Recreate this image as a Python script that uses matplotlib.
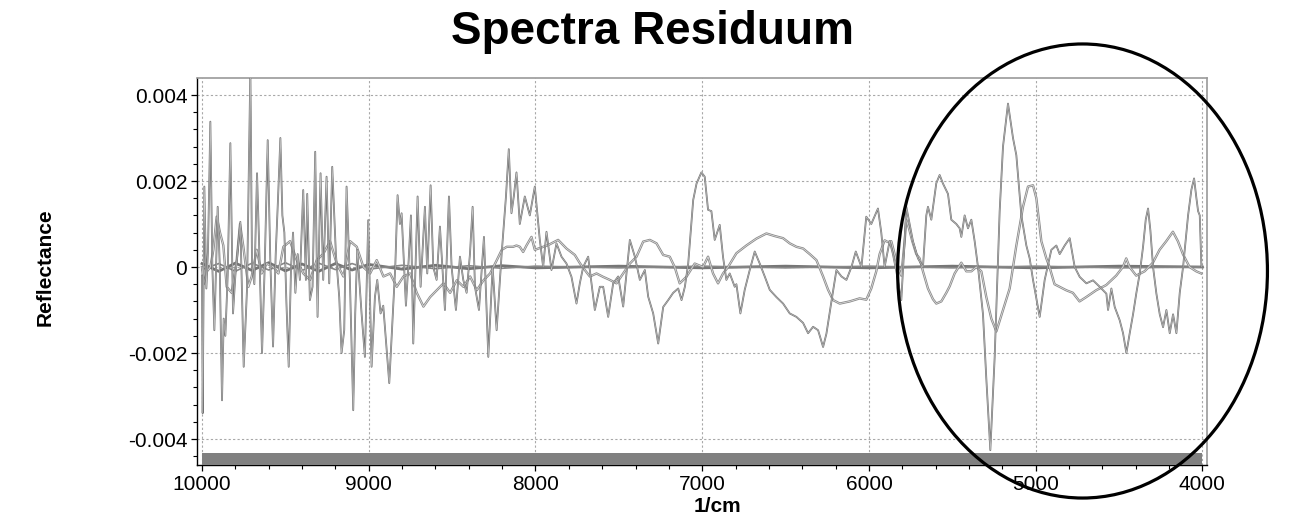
import matplotlib.pyplot as plt
from matplotlib.patches import Ellipse
from matplotlib.ticker import MultipleLocator, FixedLocator, FixedFormatter
import numpy as np

plt.rcParams['font.family'] = ['Liberation Sans', 'DejaVu Sans']
plt.rcParams['axes.unicode_minus'] = False

# residual with the large swings (wavenumber 1/cm, reflectance)
resid_a = [
    (10000, -0.0002), (9996, -0.0034), (9986, 0.00187), (9974, -0.0005), (9964, 0.0004),
    (9950, 0.00338), (9938, 0.0), (9926, -0.00147), (9906, 0.0014), (9894, 0.0001),
    (9880, -0.0031), (9870, -0.0012), (9860, -0.0016), (9846, -0.0002), (9830, 0.00288),
    (9814, -0.00108), (9800, -0.0002), (9790, 0.0002), (9770, 0.00105), (9750, -0.00232),
    (9730, -0.0005), (9710, 0.0046), (9700, 0.0), (9686, -0.0004), (9670, 0.00218),
    (9658, 0.0006), (9640, -0.002), (9624, 0.0), (9606, 0.00295), (9590, 0.0001),
    (9574, -0.00185), (9558, 0.0003), (9544, 0.0016), (9530, 0.003), (9518, 0.0012),
    (9506, 0.0008), (9494, -0.0008), (9480, -0.00232), (9466, 0.0), (9454, 0.0008),
    (9440, -0.0006), (9426, 0.0003), (9413, -0.0003), (9393, 0.00179), (9377, -0.0003),
    (9369, 0.0017), (9353, -0.00077), (9337, -0.00046), (9321, 0.00268), (9307, -0.00116),
    (9289, 0.00218), (9273, -0.0003), (9253, 0.0021), (9237, -0.00038), (9219, 0.00233),
    (9197, 0.0003), (9177, -0.0007), (9163, -0.002), (9147, -0.00147), (9133, 0.00187),
    (9113, -0.0003), (9093, -0.00333), (9081, -0.00108), (9069, 0.0004), (9043, -0.00108),
    (9023, -0.00209), (9003, 0.00109), (8983, -0.00232), (8963, -0.0007), (8949, -0.0003),
    (8929, -0.00108), (8913, -0.0009), (8897, -0.0017), (8877, -0.0027), (8857, -0.0012),
    (8841, 0.0), (8827, 0.00167), (8813, 0.001), (8803, 0.00125), (8777, -0.0009),
    (8760, 0.0002), (8747, 0.0012), (8733, -0.00178), (8707, 0.00164), (8689, -0.00046),
    (8663, 0.0014), (8649, -0.00015), (8629, 0.0019), (8613, 0.0), (8593, -0.0003),
    (8573, 0.00094), (8543, -0.001), (8519, 0.00164), (8503, 0.0), (8477, -0.001),
    (8453, 0.00024), (8433, -0.0003), (8413, -0.0006), (8393, 0.0003), (8377, 0.0014),
    (8363, -0.00046), (8339, -0.001), (8309, 0.0007), (8283, -0.00209), (8257, 0.0),
    (8233, -0.00147), (8203, 0.0003), (8177, 0.00164), (8160, 0.00274), (8144, 0.00125),
    (8130, 0.00164), (8114, 0.0022), (8094, 0.001), (8064, 0.00164), (8034, 0.0012),
    (8004, 0.00187), (7974, 0.00063), (7954, 0.0), (7934, 0.00082), (7904, -0.00007),
    (7874, 0.00055), (7844, 0.00024), (7814, 0.00008), (7784, -0.00023), (7754, -0.00085),
    (7734, -0.00038), (7714, 0.0), (7684, 0.00024), (7644, -0.001), (7614, -0.00046),
    (7594, -0.00046), (7564, -0.00116), (7534, -0.00038), (7504, -0.00022), (7474, -0.00092),
    (7434, 0.00063), (7404, 0.00024), (7374, -0.0003), (7344, -0.00007), (7324, -0.00069),
    (7294, -0.00108), (7264, -0.00178), (7234, -0.00093), (7204, -0.00077), (7174, -0.0006),
    (7144, -0.0005), (7124, -0.00077), (7104, -0.00046), (7084, 0.00008), (7054, 0.00156),
    (7034, 0.00194), (7005, 0.0022), (6985, 0.0021), (6965, 0.00133), (6945, 0.0013),
    (6925, 0.00063), (6895, 0.00098), (6875, 0.00023), (6855, -0.0003), (6835, -0.00015),
    (6805, -0.00046), (6795, -0.0004), (6771, -0.00108), (6745, -0.00053), (6715, -0.00007),
    (6685, 0.00036), (6655, 0.00008), (6625, -0.00022), (6595, -0.00053), (6555, -0.0007),
    (6515, -0.00085), (6475, -0.00108), (6435, -0.00116), (6395, -0.0013), (6365, -0.00154),
    (6335, -0.00139), (6305, -0.00147), (6275, -0.00186), (6255, -0.00155), (6225, -0.0008),
    (6195, -0.00007), (6165, -0.00022), (6135, -0.0003), (6105, 0.0), (6079, 0.00036),
    (6045, 0.0), (6025, 0.0008), (6016, 0.00117), (5986, 0.001), (5946, 0.00136),
    (5926, 0.0008), (5906, 0.0), (5876, 0.0006), (5856, 0.0003), (5836, -0.0001),
    (5806, -0.00077), (5786, 0.0006), (5776, 0.0014), (5756, 0.001), (5736, 0.0006),
    (5706, 0.0002), (5676, 0.0), (5656, 0.0012), (5646, 0.0014), (5626, 0.0011),
    (5596, 0.00195), (5576, 0.00214), (5556, 0.00194), (5526, 0.0017), (5506, 0.0011),
    (5476, 0.001), (5456, 0.0009), (5446, 0.0007), (5426, 0.0012), (5406, 0.0009),
    (5386, 0.0011), (5366, 0.0006), (5346, 0.0), (5316, -0.0011), (5296, -0.0026),
    (5272, -0.00426), (5246, -0.0021), (5216, 0.0013), (5196, 0.0028), (5166, 0.0038),
    (5136, 0.003), (5116, 0.0026), (5086, 0.0012), (5056, 0.0005), (5036, 0.0002),
    (5016, -0.0003), (4976, -0.00116), (4946, -0.0003), (4906, 0.0004), (4876, 0.0005),
    (4856, 0.0003), (4826, 0.0005), (4796, 0.00067), (4766, 0.0), (4736, -0.00023),
    (4696, -0.00038), (4656, -0.00031), (4616, -0.00046), (4576, -0.00062), (4566, -0.001),
    (4546, -0.0005), (4526, -0.00093), (4496, -0.00124), (4476, -0.00154), (4456, -0.002),
    (4436, -0.00154), (4416, -0.0011), (4396, -0.0006), (4376, -0.00015), (4356, 0.00047),
    (4340, 0.0011), (4326, 0.00136), (4312, 0.00085), (4296, 0.0), (4276, -0.00062),
    (4256, -0.0011), (4236, -0.0014), (4216, -0.001), (4196, -0.00154), (4176, -0.0011),
    (4156, -0.00154), (4136, -0.0006), (4116, 0.0), (4086, 0.0012), (4066, 0.0018),
    (4050, 0.00206), (4036, 0.0016), (4026, 0.0013), (4016, 0.0012), (4006, 0.0),
]

# smoother residual pair
resid_b = [
    (10000, 0.0), (9990, -0.0004), (9970, -0.0001), (9950, 0.0), (9932, 0.0004),
    (9912, 0.00117), (9892, 0.0008), (9872, 0.0005), (9852, -0.00046), (9822, -0.0006),
    (9792, 0.00016), (9772, 0.001), (9752, 0.00047), (9722, -0.00046), (9702, -0.00022),
    (9672, 0.0004), (9642, -0.00015), (9612, 0.00008), (9572, 0.0), (9542, -0.00015),
    (9512, 0.00047), (9472, 0.0006), (9432, 0.00016), (9392, -0.00015), (9352, -0.0003),
    (9312, 0.00016), (9272, 0.00031), (9232, 0.0006), (9192, 0.00008), (9152, -0.00022),
    (9112, 0.0006), (9072, 0.00047), (9032, 0.0), (8992, -0.00015), (8952, 0.00016),
    (8912, -0.00022), (8872, -0.00015), (8832, -0.00046), (8792, -0.00022), (8752, -0.00015),
    (8712, -0.0006), (8672, -0.00092), (8632, -0.0007), (8592, -0.00054), (8552, -0.00038),
    (8512, -0.0006), (8472, -0.00031), (8432, -0.00046), (8392, -0.00022), (8352, -0.00054),
    (8312, -0.00031), (8272, -0.00015), (8232, 0.00016), (8202, 0.0004), (8172, 0.00047),
    (8134, 0.00047), (8114, 0.0005), (8094, 0.00047), (8074, 0.00035), (8054, 0.0005),
    (8024, 0.0007), (8004, 0.0004), (7954, 0.00047), (7924, 0.00051), (7864, 0.00063),
    (7814, 0.00043), (7764, 0.00028), (7734, 0.00009), (7704, -0.00007), (7674, -0.00022),
    (7634, -0.00015), (7594, -0.00023), (7554, -0.0003), (7514, -0.00038), (7474, -0.00015),
    (7434, 0.00008), (7394, 0.00024), (7354, 0.00059), (7314, 0.00063), (7274, 0.00055),
    (7234, 0.00028), (7195, 0.00024), (7165, 0.0), (7135, -0.00038), (7095, -0.00023),
    (7045, 0.00008), (6995, 0.0), (6965, 0.00024), (6935, -0.00015), (6905, -0.00038),
    (6875, -0.00015), (6845, 0.0), (6795, 0.00032), (6735, 0.0005), (6675, 0.00066),
    (6615, 0.00078), (6565, 0.00072), (6515, 0.00067), (6475, 0.00055), (6435, 0.00047),
    (6395, 0.00043), (6355, 0.0003), (6315, 0.00016), (6275, -0.00022), (6245, -0.00053),
    (6215, -0.00077), (6175, -0.00085), (6115, -0.0008), (6056, -0.00073), (6016, -0.00076),
    (5986, -0.0005), (5956, -0.0001), (5936, 0.0003), (5906, 0.00062), (5886, 0.00058),
    (5866, 0.0006), (5846, 0.0003), (5826, 0.0), (5806, -0.0002), (5786, 0.0006),
    (5776, 0.0011), (5760, 0.0009), (5740, 0.0006), (5716, 0.0003), (5696, 0.0002),
    (5676, -0.0001), (5646, -0.0005), (5616, -0.00075), (5596, -0.00085), (5566, -0.0008),
    (5536, -0.0006), (5516, -0.00045), (5486, -0.00015), (5446, 0.0001), (5416, -0.0001),
    (5386, -0.0001), (5356, 0.0), (5326, -0.0001), (5296, -0.0007), (5266, -0.0012),
    (5236, -0.0015), (5196, -0.001), (5156, -0.0005), (5116, 0.0005), (5076, 0.0014),
    (5046, 0.00187), (5016, 0.0019), (4996, 0.0016), (4966, 0.0006), (4936, 0.0002),
    (4917, 0.0), (4887, -0.0004), (4857, -0.00046), (4817, -0.00054), (4777, -0.0006),
    (4737, -0.0008), (4697, -0.0007), (4637, -0.00054), (4577, -0.00042), (4517, -0.0002),
    (4477, 0.0), (4457, 0.0002), (4437, 0.0), (4397, -0.0002), (4347, -0.0001),
    (4297, 0.0001), (4257, 0.0004), (4217, 0.0006), (4177, 0.00082), (4147, 0.0006),
    (4117, 0.0003), (4077, 0.0), (4037, -0.0001), (4007, -0.00015),
]

# residuals that stay on the zero line
zero_wn = [10000, 9900, 9800, 9700, 9600, 9500, 9400, 9300, 9200, 9100, 9000, 8800,
           8600, 8400, 8200, 8000, 7500, 7000, 6500, 6000, 5500, 5000, 4500, 4000]
zero_c = [0.00008, -0.0001, 0.00009, -0.00008, 0.0001, -0.00009, 0.00007, -0.0001, 0.00008,
          -0.00007, 0.00006, -0.00005, 0.00004, -0.00004, 0.00003, -0.00002, 0.00002, -0.00002,
          0.00002, -0.00002, 0.00002, -0.00002, 0.00002, 0.0]
zero_d = [-0.00006, 0.00008, -0.0001, 0.00009, -0.00007, 0.0001, -0.00008, 0.00009, -0.00006,
          0.00008, -0.00005, 0.00004, -0.00004, 0.00003, -0.00003, 0.00002, -0.00002, 0.00002,
          -0.00002, 0.00002, -0.00002, 0.00002, -0.00002, 0.0]

x_ticks = [10000, 9000, 8000, 7000, 6000, 5000, 4000]
x_labels = ['10000', '9000', '8000', '7000', '6000', '5000', '4000']
y_ticks = [0.004, 0.002, 0.0, -0.002, -0.004]
y_labels = ['0.004', '0.002', '0', '-0.002', '-0.004']

a = np.array(resid_a)
b = np.array(resid_b)

fig = plt.figure(figsize=(12.91, 5.14), dpi=100)
ax = fig.add_axes([0.1526, 0.0953, 0.7824, 0.7529])

ax.set_xlim(10030, 3972)
ax.set_ylim(-0.004605, 0.004395)

# zero band
ax.plot(zero_wn, zero_c, color='#767676', lw=2.0, zorder=3)
ax.plot(zero_wn, zero_d, color='#888888', lw=1.2, zorder=3)

# double-rail look of the near-identical spectra
ax.plot(b[:, 0], b[:, 1], color='#8a8a8a', lw=1.7, zorder=4)
ax.plot(b[:, 0], b[:, 1], color='#e4e4e4', lw=0.5, zorder=4)
ax.plot(a[:, 0], a[:, 1], color='#737373', lw=1.3, zorder=5)
ax.plot(a[:, 0], a[:, 1], color='#c8c8c8', lw=0.4, zorder=5)

# grey band along the bottom
ax.fill_between([10000, 4000], -0.004605, -0.004326, color='#808080', lw=0, zorder=6)

ax.grid(True, which='major', color='#a8a8a8', linestyle=(0, (2, 2)), lw=0.8)
ax.set_axisbelow(True)

ax.xaxis.set_major_locator(FixedLocator(x_ticks))
ax.xaxis.set_major_formatter(FixedFormatter(x_labels))
ax.xaxis.set_minor_locator(MultipleLocator(200))
ax.yaxis.set_major_locator(FixedLocator(y_ticks))
ax.yaxis.set_major_formatter(FixedFormatter(y_labels))
ax.yaxis.set_minor_locator(MultipleLocator(0.0004))

ax.tick_params(axis='both', which='major', direction='out', length=4, width=0.9,
               labelsize=15, pad=3, colors='black')
ax.tick_params(axis='both', which='minor', direction='out', length=3, width=0.8)

for side in ['top', 'right']:
    ax.spines[side].set_color('#9a9a9a')
    ax.spines[side].set_linewidth(1.2)
for side in ['left', 'bottom']:
    ax.spines[side].set_color('black')
    ax.spines[side].set_linewidth(1.0)

fig.text(0.5058, 0.914, 'Spectra Residuum', ha='center', va='baseline',
         fontsize=33, fontweight='bold')
fig.text(0.035, 0.48, 'Reflectance', ha='center', va='center', rotation=90,
         fontsize=15, fontweight='bold')
fig.text(0.556, 0.003, '1/cm', ha='center', va='baseline', fontsize=15, fontweight='bold')

# hand-drawn highlight around the 4000-5800 region
ring = Ellipse((4719, -0.000093), width=2218, height=0.01056, fill=False,
               edgecolor='black', lw=2.3, clip_on=False, zorder=10)
ax.add_patch(ring)

fig.savefig('out.png', dpi=100, facecolor='white')
